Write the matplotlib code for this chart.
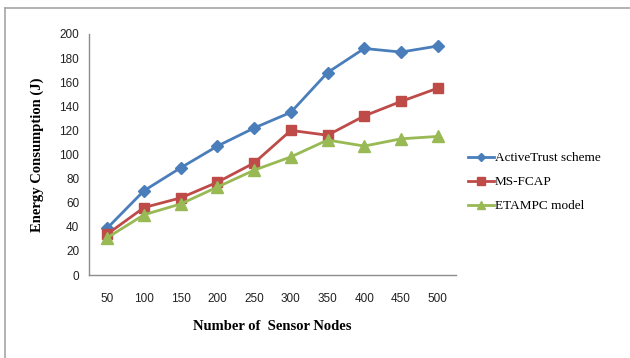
import matplotlib.pyplot as plt
from matplotlib.lines import Line2D

# node counts and energy use (J) for each scheme
nodes = ["50", "100", "150", "200", "250", "300", "350", "400", "450", "500"]
activetrust = [39, 70, 89, 107, 122, 135, 168, 188, 185, 190]
ms_fcap = [34, 56, 64, 77, 93, 120, 116, 132, 144, 155]
etampc = [31, 50, 59, 73, 87, 98, 112, 107, 113, 115]

W, H = 630, 358
fig = plt.figure(figsize=(W / 100, H / 100), dpi=100)

# grey frame on left and top
fig.add_artist(Line2D([5 / W, 5 / W], [0, 1 - 8 / H], color="#a6a6a6", lw=1.2))
fig.add_artist(Line2D([5 / W, 1], [1 - 8 / H, 1 - 8 / H], color="#a6a6a6", lw=1.2))

ax = fig.add_axes([89 / W, 1 - 275 / H, 367 / W, 241 / H])
x = range(len(nodes))
ax.plot(x, activetrust, color="#4A7EBB", lw=2, marker="D", ms=6, label="ActiveTrust scheme")
ax.plot(x, ms_fcap, color="#BE4B48", lw=2, marker="s", ms=7.5, label="MS-FCAP")
ax.plot(x, etampc, color="#98B954", lw=2, marker="^", ms=8, label="ETAMPC model")

ax.set_xlim(-0.5, len(nodes) - 0.5)
ax.set_ylim(0, 200)
ax.set_yticks(range(0, 201, 20))
ax.set_xticks(list(x))
ax.set_xticklabels(nodes)
ax.tick_params(length=0, labelsize=8.5, labelcolor="#222222", pad=7)
ax.tick_params(axis="x", pad=13)
for lab in ax.get_xticklabels() + ax.get_yticklabels():
    lab.set_family("Liberation Sans")
for side in ["top", "right"]:
    ax.spines[side].set_visible(False)
for side in ["left", "bottom"]:
    ax.spines[side].set_color("#8c8c8c")
    ax.spines[side].set_linewidth(1)

ax.set_xlabel("Number of  Sensor Nodes", family="Liberation Serif", fontweight="bold",
              fontsize=10.5, labelpad=11)
ax.set_ylabel("Energy Consumption (J)", family="Liberation Serif", fontweight="bold",
              fontsize=10.5, labelpad=11)

leg = ax.legend(loc="center left", bbox_to_anchor=(1.0, 0.385), frameon=False,
                prop={"family": "Liberation Serif", "size": 9.5}, handlelength=2.0,
                handletextpad=0.05, labelspacing=0.9, markerscale=0.75)

fig.savefig("out.png", dpi=100)
